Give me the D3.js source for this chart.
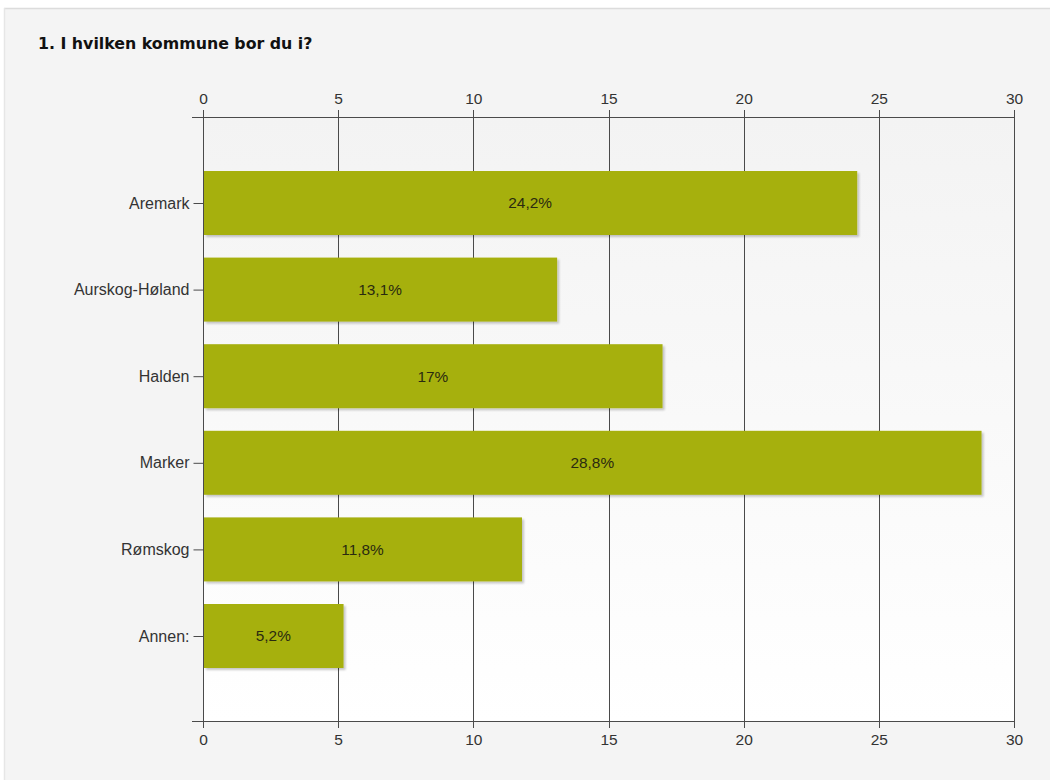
<!DOCTYPE html>
<html>
<head>
<meta charset="utf-8">
<script src="https://cdn.jsdelivr.net/npm/d3@7/dist/d3.min.js"></script>
<style>
  html, body { margin: 0; padding: 0; background: #ffffff; }
  svg { display: block; }
</style>
</head>
<body>
<svg id="chart" width="1050" height="780"></svg>
<script>
// Survey answers: municipality of residence
const title = "1. I hvilken kommune bor du i?";
const categories = ["Aremark", "Aurskog-Høland", "Halden", "Marker", "Rømskog", "Annen:"];
const values = [24.2, 13.1, 17, 28.8, 11.8, 5.2];
const valueLabels = ["24,2%", "13,1%", "17%", "28,8%", "11,8%", "5,2%"];
const ticks = [0, 5, 10, 15, 20, 25, 30];

const svg = d3.select("#chart");
const defs = svg.append("defs");

const plotGrad = defs.append("linearGradient")
  .attr("id", "plotBg").attr("x1", 0).attr("y1", 0).attr("x2", 0).attr("y2", 1);
plotGrad.append("stop").attr("offset", "0%").attr("stop-color", "#f3f3f3");
plotGrad.append("stop").attr("offset", "100%").attr("stop-color", "#ffffff");

const shadow = defs.append("filter").attr("id", "barShadow")
  .attr("x", "-5%").attr("y", "-10%").attr("width", "115%").attr("height", "130%");
shadow.append("feGaussianBlur").attr("in", "SourceAlpha").attr("stdDeviation", 1.2).attr("result", "blur");
shadow.append("feOffset").attr("in", "blur").attr("dx", 2).attr("dy", 2).attr("result", "off");
shadow.append("feComponentTransfer").attr("in", "off").attr("result", "soft")
  .append("feFuncA").attr("type", "linear").attr("slope", 0.22);
const merge = shadow.append("feMerge");
merge.append("feMergeNode").attr("in", "soft");
merge.append("feMergeNode").attr("in", "SourceGraphic");

// Panel
svg.append("rect").attr("x", 4).attr("y", 8).attr("width", 1046).attr("height", 772)
  .attr("fill", "#f4f4f4");
svg.append("line").attr("x1", 4).attr("x2", 1050).attr("y1", 8.5).attr("y2", 8.5)
  .attr("stroke", "#dcdcdc").attr("stroke-width", 1.5);
svg.append("line").attr("x1", 4.5).attr("x2", 4.5).attr("y1", 8).attr("y2", 780)
  .attr("stroke", "#e6e6e6").attr("stroke-width", 1.5);

svg.append("text")
  .attr("x", 38).attr("y", 49)
  .attr("font-family", "Verdana, 'DejaVu Sans', sans-serif")
  .attr("font-weight", "bold").attr("font-size", 15.8)
  .attr("fill", "#111")
  .text(title);

const plotTop = 117, plotBottom = 721, plotLeft = 203, plotRight = 1014;

const x = d3.scaleLinear().domain([0, 30]).range([plotLeft, plotRight]);
const y = d3.scalePoint().domain(categories).range([203, 636]);
const barH = 64;

svg.append("rect").attr("x", plotLeft).attr("y", plotTop)
  .attr("width", plotRight - plotLeft).attr("height", plotBottom - plotTop)
  .attr("fill", "url(#plotBg)");

const axisColor = "#4a4a4a";
const font = "Arial, 'Liberation Sans', sans-serif";

// Vertical grid lines
svg.append("g").selectAll("line").data(ticks).join("line")
  .attr("x1", d => Math.round(x(d)) + 0.5).attr("x2", d => Math.round(x(d)) + 0.5)
  .attr("y1", plotTop - 7).attr("y2", plotBottom + 7)
  .attr("stroke", axisColor).attr("stroke-width", 1);

// Horizontal axis lines, top and bottom
[plotTop, plotBottom].forEach(yy => {
  svg.append("line").attr("x1", plotLeft - 11).attr("x2", plotRight + 0.5)
    .attr("y1", yy + 0.5).attr("y2", yy + 0.5)
    .attr("stroke", axisColor).attr("stroke-width", 1.2);
});

// Tick labels
const topAxis = d3.axisTop(x).tickValues(ticks).tickSize(0).tickPadding(13);
const botAxis = d3.axisBottom(x).tickValues(ticks).tickSize(0).tickPadding(13);
[[topAxis, plotTop], [botAxis, plotBottom]].forEach(([ax, yy]) => {
  const g = svg.append("g").attr("transform", `translate(0,${yy})`).call(ax);
  g.select(".domain").remove();
  g.selectAll("text").attr("font-family", font).attr("font-size", 15.5).attr("fill", "#333");
});

// Category axis
const yAxis = d3.axisLeft(y).tickSize(10).tickPadding(4);
const gy = svg.append("g").attr("transform", `translate(${plotLeft + 0.5},0)`).call(yAxis);
gy.select(".domain").remove();
gy.selectAll("line").attr("stroke", axisColor);
gy.selectAll("text").attr("font-family", font).attr("font-size", 16).attr("fill", "#333");

// Bars
const rows = categories.map((c, i) => ({ c, v: values[i], label: valueLabels[i] }));
svg.append("g").selectAll("rect").data(rows).join("rect")
  .attr("x", x(0) + 1).attr("y", d => y(d.c) - barH / 2)
  .attr("width", d => x(d.v) - x(0) - 1).attr("height", barH)
  .attr("fill", "#a6b011")
  .attr("filter", "url(#barShadow)");

svg.append("g").selectAll("text").data(rows).join("text")
  .attr("x", d => (x(0) + x(d.v)) / 2).attr("y", d => y(d.c))
  .attr("dy", "0.35em").attr("text-anchor", "middle")
  .attr("font-family", font).attr("font-size", 15.4).attr("fill", "#2a2a10")
  .text(d => d.label);
</script>
</body>
</html>
